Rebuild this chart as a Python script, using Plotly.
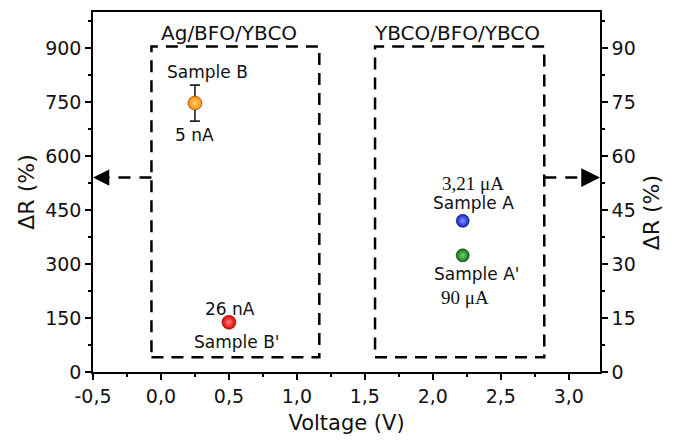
import plotly.graph_objects as go

# ---- data ----
left_x = [0.25, 0.5]            # Ag/BFO/YBCO samples (left axis)
left_y = [747, 138]
left_err = [50, 10]
left_colors = ["#ff8a00", "#e00000"]
left_centers = ["#ffd27a", "#ff7a7a"]

right_x = [2.22, 2.22]          # YBCO/BFO/YBCO samples (right axis)
right_y = [42.0, 32.4]
right_err = [0.0, 1.0]
right_colors = ["#0a1fd0", "#0a7a0a"]
right_centers = ["#8a9aff", "#7ad07a"]

x_ticks = [-0.5, 0.0, 0.5, 1.0, 1.5, 2.0, 2.5, 3.0]
x_ticklabels = ["-0,5", "0,0", "0,5", "1,0", "1,5", "2,0", "2,5", "3,0"]
yl_ticks = [0, 150, 300, 450, 600, 750, 900]
yr_ticks = [0, 15, 30, 45, 60, 75, 90]

FONT = "DejaVu Sans"

fig = go.Figure()
fig.add_trace(go.Scatter(
    x=left_x, y=left_y, mode="markers",
    marker=dict(size=14, color=left_colors, line=dict(width=0.5, color="#552200"),
                gradient=dict(type="radial", color=left_centers)),
    error_y=dict(type="data", array=left_err, color="#222", thickness=1.6, width=5),
    showlegend=False, yaxis="y"))
fig.add_trace(go.Scatter(
    x=right_x, y=right_y, mode="markers",
    marker=dict(size=13, color=right_colors, line=dict(width=0.5, color="#002"),
                gradient=dict(type="radial", color=right_centers)),
    error_y=dict(type="data", array=right_err, color="#222", thickness=1.6, width=3),
    showlegend=False, yaxis="y2"))

# dashed boxes
boxes = [(-0.07, 1.165, 41, 904), (1.575, 2.82, 41, 904)]
dash = "12px,8px"
for x0, x1, y0, y1 in boxes:
    fig.add_shape(type="rect", x0=x0, x1=x1, y0=y0, y1=y1, xref="x", yref="y",
                  line=dict(color="black", width=2.5, dash=dash))

# dashed connectors + arrowheads
arrow_y = 540
fig.add_shape(type="line", x0=-0.07, x1=-0.47, y0=arrow_y, y1=arrow_y, xref="x", yref="y",
              line=dict(color="black", width=2.5, dash="12px,9px"))
fig.add_shape(type="line", x0=2.82, x1=3.2, y0=arrow_y, y1=arrow_y, xref="x", yref="y",
              line=dict(color="black", width=2.5, dash="12px,9px"))
fig.add_annotation(x=-0.5, y=arrow_y, ax=-0.4, ay=arrow_y, axref="x", ayref="y",
                   xref="x", yref="y", showarrow=True, arrowhead=2, arrowsize=1.3,
                   arrowwidth=2.5, arrowcolor="black", text="")
fig.add_annotation(x=3.23, y=arrow_y, ax=3.13, ay=arrow_y, axref="x", ayref="y",
                   xref="x", yref="y", showarrow=True, arrowhead=2, arrowsize=1.5,
                   arrowwidth=2.5, arrowcolor="black", text="")

labels = [
    ("Ag/BFO/YBCO", 0.5, 943, 20),
    ("YBCO/BFO/YBCO", 2.18, 943, 20),
    ("Sample B", 0.344, 833, 17),
    ("5 nA", 0.248, 659, 17),
    ("26 nA", 0.505, 174, 17),
    ("Sample B'", 0.556, 83, 17),
    ("Sample A", 2.30, 469, 17),
    ("Sample A'", 2.32, 273, 17),
]
for t, x, y, s in labels:
    fig.add_annotation(x=x, y=y, xref="x", yref="y", text=t, showarrow=False,
                       font=dict(family=FONT, size=s, color="#111"))
for t, x, y in [("3,21 μA", 2.295, 524), ("90 μA", 2.24, 207)]:
    fig.add_annotation(x=x, y=y, xref="x", yref="y", text=t, showarrow=False,
                       font=dict(family="Liberation Serif", size=19, color="#111"))

# right axis title (reads bottom-to-top like the left one)
fig.add_annotation(x=1.13, y=0.442, xref="paper", yref="paper", text="ΔR (%)",
                   textangle=-90, showarrow=False,
                   font=dict(family=FONT, size=22, color="#111"))

axis_common = dict(showline=True, linecolor="black", linewidth=1.5, ticks="outside",
                   ticklen=6, tickwidth=1.5, tickcolor="black", showgrid=False,
                   zeroline=False, tickfont=dict(family=FONT, size=19, color="#111"))

fig.update_layout(
    width=688, height=443, margin=dict(l=93, r=88, t=10, b=71),
    paper_bgcolor="white", plot_bgcolor="white",
    xaxis=dict(range=[-0.5, 3.23], tickvals=x_ticks, ticktext=x_ticklabels,
               mirror=True, minor=dict(dtick=0.25, tick0=0, ticks="outside", ticklen=3,
                                       tickwidth=1.5, tickcolor="black"),
               title=dict(text="Voltage (V)", font=dict(family=FONT, size=21, color="#111"),
                          standoff=10),
               **axis_common),
    yaxis=dict(range=[0, 1000], tickvals=yl_ticks,
               minor=dict(dtick=75, tick0=0, ticks="outside", ticklen=3, tickwidth=1.5,
                          tickcolor="black"),
               title=dict(text="ΔR (%)", font=dict(family=FONT, size=22, color="#111"),
                          standoff=4),
               **axis_common),
    yaxis2=dict(range=[0, 100], tickvals=yr_ticks, overlaying="y", side="right",
                minor=dict(dtick=7.5, tick0=0, ticks="outside", ticklen=3, tickwidth=1.5,
                           tickcolor="black"),
                **axis_common),
)

fig.write_html("out.html")
